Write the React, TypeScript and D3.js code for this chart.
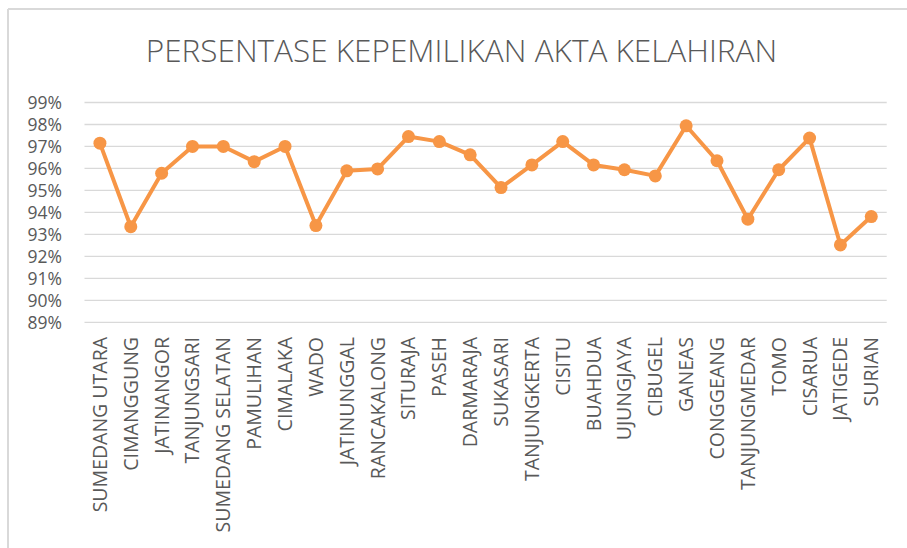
import React, { useEffect, useRef } from "react";
import * as d3 from "d3";

const kecamatan = [
  "SUMEDANG UTARA", "CIMANGGUNG", "JATINANGOR", "TANJUNGSARI", "SUMEDANG SELATAN",
  "PAMULIHAN", "CIMALAKA", "WADO", "JATINUNGGAL", "RANCAKALONG", "SITURAJA", "PASEH",
  "DARMARAJA", "SUKASARI", "TANJUNGKERTA", "CISITU", "BUAHDUA", "UJUNGJAYA", "CIBUGEL",
  "GANEAS", "CONGGEANG", "TANJUNGMEDAR", "TOMO", "CISARUA", "JATIGEDE", "SURIAN",
];

// persentase kepemilikan akta kelahiran (%)
const persen = [
  97.15, 93.35, 95.78, 97.0, 97.0, 96.31, 97.0, 93.4, 95.89, 95.98, 97.45, 97.22,
  96.62, 95.13, 96.16, 97.22, 96.16, 95.94, 95.66, 97.94, 96.35, 93.69, 95.94,
  97.38, 92.52, 93.81,
];

const yTicks = [89, 90, 91, 92, 93, 94, 95, 96, 97, 98, 99];

const W = 907;
const H = 548;
const FONT = "'Open Sans', sans-serif";
const GREY = "#595959";
const ORANGE = "#F79646";

export default function App() {
  const ref = useRef<SVGSVGElement>(null);

  useEffect(() => {
    const svg = d3.select(ref.current);
    svg.selectAll("*").remove();

    const left = 84.5, right = 886.7, top = 102.5, bottom = 322.3;

    const x = d3.scalePoint<string>().domain(kecamatan).range([left, right]).padding(0.5);
    const y = d3.scaleLinear().domain([89, 99]).range([bottom, top]);

    // frame
    svg.append("rect").attr("x", 0).attr("y", 0).attr("width", W).attr("height", H).attr("fill", "#fff");
    svg.append("line").attr("x1", 8).attr("x2", W).attr("y1", 9).attr("y2", 9)
      .attr("stroke", "#d9d9d9").attr("stroke-width", 2);
    svg.append("line").attr("x1", 8).attr("x2", 8).attr("y1", 9).attr("y2", H)
      .attr("stroke", "#d9d9d9").attr("stroke-width", 2);

    // title
    svg.append("text")
      .attr("x", 461.5).attr("y", 62)
      .attr("text-anchor", "middle")
      .attr("font-family", FONT).attr("font-size", 31.5).attr("font-weight", 300)
      .attr("fill", GREY)
      .text("PERSENTASE KEPEMILIKAN AKTA KELAHIRAN");

    // gridlines
    svg.append("g").selectAll("line").data(yTicks).enter().append("line")
      .attr("x1", left).attr("x2", right)
      .attr("y1", d => y(d)).attr("y2", d => y(d))
      .attr("stroke", "#d9d9d9").attr("stroke-width", 1.3);

    // y labels
    svg.append("g").selectAll("text").data(yTicks).enter().append("text")
      .attr("x", 62).attr("y", d => y(d) + 6.5)
      .attr("text-anchor", "end")
      .attr("font-family", FONT).attr("font-size", 17.5)
      .attr("fill", GREY)
      .text(d => d + "%");

    // x labels
    svg.append("g").selectAll("text").data(kecamatan).enter().append("text")
      .attr("transform", d => `translate(${(x(d) as number) + 7},337) rotate(-90)`)
      .attr("text-anchor", "end")
      .attr("font-family", FONT).attr("font-size", 19.5)
      .attr("fill", GREY)
      .text(d => d);

    // line
    const line = d3.line<number>()
      .x((_, i) => x(kecamatan[i]) as number)
      .y(d => y(d));
    svg.append("path").datum(persen)
      .attr("d", line)
      .attr("fill", "none").attr("stroke", ORANGE)
      .attr("stroke-width", 4).attr("stroke-linejoin", "round");

    svg.append("g").selectAll("circle").data(persen).enter().append("circle")
      .attr("cx", (_, i) => x(kecamatan[i]) as number)
      .attr("cy", d => y(d))
      .attr("r", 6.5)
      .attr("fill", ORANGE);
  }, []);

  return (
    <svg ref={ref} width={W} height={H}
      style={{ position: "absolute", left: 0, top: 0, display: "block" }} />
  );
}
